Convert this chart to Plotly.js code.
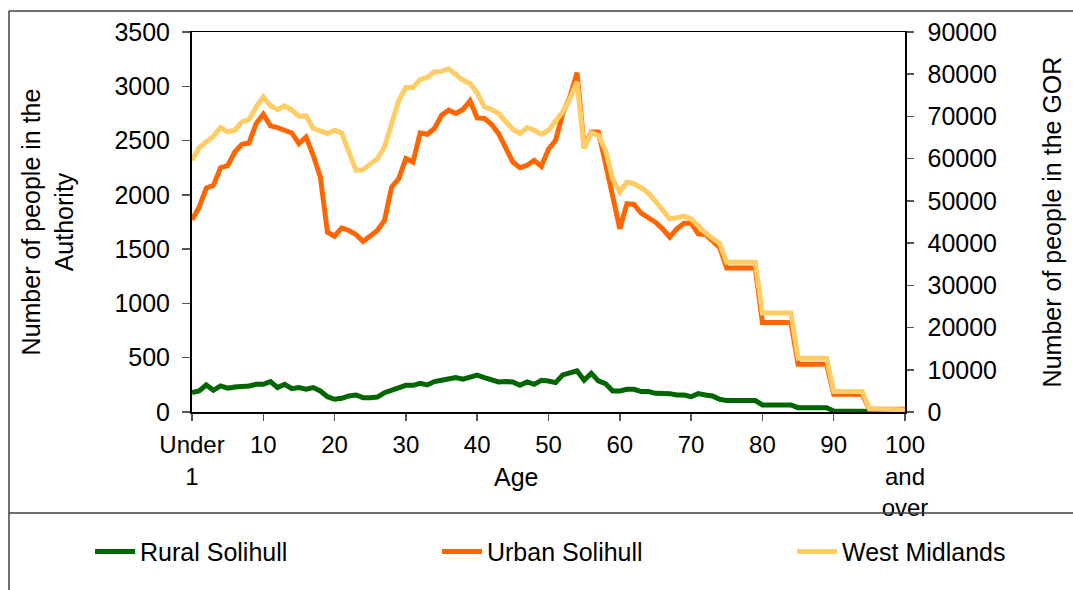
<!DOCTYPE html>
<html>
<head>
<meta charset="utf-8">
<script src="https://cdn.plot.ly/plotly-3.0.1.min.js"></script>
<style>
  html, body { margin: 0; padding: 0; background: #fff; }
  #chart { width: 1073px; height: 590px; }
</style>
</head>
<body>
<div id="chart"></div>
<script>
// ages 0 ("Under 1") to 100 ("100 and over")
var ages = [0, 1, 2, 3, 4, 5, 6, 7, 8, 9, 10, 11, 12, 13, 14, 15, 16, 17, 18, 19,
  20, 21, 22, 23, 24, 25, 26, 27, 28, 29, 30, 31, 32, 33, 34, 35, 36, 37, 38, 39,
  40, 41, 42, 43, 44, 45, 46, 47, 48, 49, 50, 51, 52, 53, 54, 55, 56, 57, 58, 59,
  60, 61, 62, 63, 64, 65, 66, 67, 68, 69, 70, 71, 72, 73, 74, 75, 76, 77, 78, 79,
  80, 81, 82, 83, 84, 85, 86, 87, 88, 89, 90, 91, 92, 93, 94, 95, 96, 97, 98, 99, 100];

// left axis - people in the authority
var ruralSolihull = [178, 194, 249, 200, 240, 219, 231, 233, 240, 255,
  255, 280, 225, 255, 215, 225, 210, 225, 194, 141,
  117, 126, 148, 157, 132, 132, 138, 178, 200, 219,
  246, 246, 265, 249, 280, 292, 302, 317, 302, 326,
  339, 317, 298, 277, 280, 277, 246, 277, 255, 292,
  286, 271, 342, 363, 379, 292, 357, 286, 262, 194,
  194, 209, 209, 188, 188, 172, 172, 169, 157, 157,
  141, 169, 157, 148, 117, 105, 105, 105, 105, 105,
  65, 65, 65, 65, 65, 40, 40, 40, 40, 40,
  10, 10, 10, 10, 10, 3, 3, 3, 3, 3, 3];

var urbanSolihull = [1770, 1887, 2062, 2087, 2250, 2269, 2395, 2466, 2478, 2657,
  2743, 2635, 2620, 2601, 2570, 2472, 2533, 2364, 2164, 1656,
  1619, 1696, 1672, 1635, 1570, 1620, 1672, 1764, 2072, 2149,
  2334, 2302, 2570, 2558, 2611, 2734, 2780, 2749, 2786, 2866,
  2709, 2703, 2650, 2564, 2426, 2302, 2250, 2272, 2318, 2263,
  2420, 2503, 2749, 2903, 3124, 2440, 2580, 2580, 2287, 2010,
  1687, 1918, 1912, 1831, 1789, 1748, 1687, 1610, 1687, 1739,
  1739, 1641, 1635, 1579, 1517, 1327, 1327, 1327, 1327, 1327,
  825, 825, 825, 825, 825, 440, 440, 440, 440, 440,
  163, 163, 163, 163, 163, 25, 25, 25, 25, 25, 25];

// right axis - people in the GOR
var westMidlands = [59600, 62600, 63950, 65300, 67370, 66340, 66740, 68720, 69270, 72280,
  74650, 72510, 71650, 72510, 71490, 70060, 70140, 67140, 66570, 65950,
  66740, 66100, 61580, 57240, 57400, 58800, 60010, 62770, 67920, 73860,
  76870, 76870, 78770, 79250, 80590, 80670, 81300, 79800, 78610, 77820,
  75600, 72280, 71650, 70700, 68710, 66900, 65950, 67380, 66740, 65790,
  66740, 69110, 71090, 74260, 78210, 62390, 66100, 65550, 61990, 55260,
  52090, 54460, 54070, 53120, 51850, 49950, 47900, 45760, 46000, 46390,
  45760, 43940, 42430, 41160, 39970, 35460, 35460, 35460, 35460, 35460,
  23440, 23440, 23440, 23440, 23440, 12750, 12750, 12750, 12750, 12750,
  4830, 4830, 4830, 4830, 4830, 790, 790, 790, 790, 790, 500];

var tickAges = [0, 10, 20, 30, 40, 50, 60, 70, 80, 90, 100];
var tickLabels = ['Under<br>1', '10', '20', '30', '40', '50', '60', '70', '80', '90', '100<br>and<br>over'];

var font = 'Arial, "Liberation Sans", sans-serif';

var ruralTrace = {
  x: ages, y: ruralSolihull, name: 'Rural Solihull',
  type: 'scatter', mode: 'lines', legend: 'legend',
  line: {color: '#006600', width: 5}
};
var urbanTrace = {
  x: ages, y: urbanSolihull, name: 'Urban Solihull',
  type: 'scatter', mode: 'lines', legend: 'legend2',
  line: {color: '#FF6600', width: 5}
};
var westTrace = {
  x: ages, y: westMidlands, name: 'West Midlands', yaxis: 'y2',
  type: 'scatter', mode: 'lines', legend: 'legend3',
  line: {color: '#FFCC66', width: 5}
};

// one legend box per series so they sit spread out like the original
function legendAt(xPos) {
  return {
    orientation: 'h',
    x: xPos, xanchor: 'left',
    y: -0.368, yanchor: 'middle',
    bgcolor: 'rgba(0,0,0,0)',
    font: {size: 25},
    itemwidth: 40
  };
}

var layout = {
  width: 1073,
  height: 590,
  margin: {l: 192, r: 168, t: 32, b: 178, autoexpand: false},
  paper_bgcolor: '#fff',
  plot_bgcolor: '#fff',
  font: {family: font, size: 25, color: '#000'},
  showlegend: true,
  legend: legendAt(-0.143),
  legend2: legendAt(0.3436),
  legend3: legendAt(0.8415),
  xaxis: {
    range: [0, 100],
    tickvals: tickAges,
    ticktext: tickLabels,
    ticks: 'outside', ticklen: 7, tickwidth: 1.5, tickcolor: '#555',
    showline: true, linecolor: '#000', linewidth: 1.5, mirror: true,
    showgrid: false, zeroline: false,
    tickfont: {size: 24},
    ticklabelstandoff: 4
  },
  yaxis: {
    range: [0, 3500],
    dtick: 500,
    ticks: 'outside', ticklen: 8, tickwidth: 1.5, tickcolor: '#555',
    showline: true, linecolor: '#000', linewidth: 2,
    showgrid: false, zeroline: false,
    tickfont: {size: 25},
    ticklabelstandoff: 7,
    title: {text: 'Number of people in the<br>Authority', font: {size: 25}, standoff: 34}
  },
  yaxis2: {
    range: [0, 90000],
    dtick: 10000,
    tickformat: 'd',
    overlaying: 'y',
    side: 'right',
    ticks: 'outside', ticklen: 7, tickwidth: 1.5, tickcolor: '#555',
    showline: true, linecolor: '#000', linewidth: 1.5,
    showgrid: false, zeroline: false,
    tickfont: {size: 25},
    ticklabelstandoff: 9,
    title: {text: 'Number of people in the GOR', font: {size: 25}, standoff: 47}
  },
  // inner half of the cross ticks on the right axis
  yaxis3: {
    range: [0, 90000],
    dtick: 10000,
    overlaying: 'y',
    side: 'right',
    ticks: 'inside', ticklen: 8, tickwidth: 1.5, tickcolor: '#555',
    showticklabels: false, showline: false,
    showgrid: false, zeroline: false
  },
  annotations: [{
    text: 'Age', xref: 'paper', yref: 'paper',
    x: 0.4544, y: -0.171, xanchor: 'center', yanchor: 'middle',
    showarrow: false, font: {size: 25}
  }],
  shapes: [
    // outer chart frame and legend separator
    {type: 'line', xref: 'paper', yref: 'paper', x0: -0.2567, x1: 1.26, y0: 1.0553, y1: 1.0553,
      line: {color: '#404040', width: 1.5}},
    {type: 'line', xref: 'paper', yref: 'paper', x0: -0.2567, x1: -0.2567, y0: 1.0553, y1: -0.52,
      line: {color: '#404040', width: 1.5}},
    {type: 'line', xref: 'paper', yref: 'paper', x0: -0.2567, x1: 1.26, y0: -0.2658, y1: -0.2658,
      line: {color: '#404040', width: 1.5}}
  ]
};

Plotly.newPlot('chart', [ruralTrace, urbanTrace, westTrace], layout, {displayModeBar: false, staticPlot: true});
</script>
</body>
</html>
